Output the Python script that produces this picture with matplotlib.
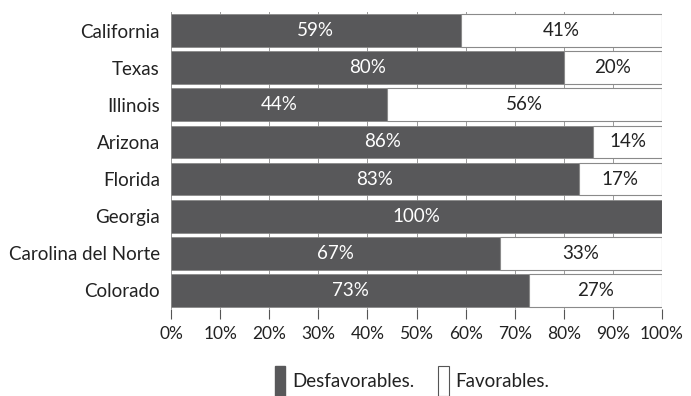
import numpy as np
import matplotlib.pyplot as plt
from matplotlib.patches import Patch

plt.rcParams['font.family'] = ['Lato', 'DejaVu Sans']

# states, top to bottom
estados = ["California", "Texas", "Illinois", "Arizona", "Florida",
           "Georgia", "Carolina del Norte", "Colorado"]
desfavorables = [59, 80, 44, 86, 83, 100, 67, 73]
favorables = [41, 20, 56, 14, 17, 0, 33, 27]

oscuro = "#58585a"

fig = plt.figure(figsize=(6.91, 3.96), dpi=100)
ax = fig.add_axes([171 / 691, 1 - 309 / 396, (662 - 171) / 691, (309 - 12) / 396])

y = np.arange(len(estados))
alto = 0.88

ax.barh(y, desfavorables, height=alto, color=oscuro, edgecolor="#8a8a8a",
        linewidth=0.6, zorder=2)
ax.barh(y, favorables, left=desfavorables, height=alto, color="white",
        edgecolor="#8a8a8a", linewidth=0.8, zorder=2)

for i in range(len(estados)):
    d, f = desfavorables[i], favorables[i]
    if d > 0:
        ax.text(d / 2, y[i], f"{d}%", ha="center", va="center",
                color="white", fontsize=13.5, zorder=3)
    if f > 0:
        ax.text(d + f / 2, y[i], f"{f}%", ha="center", va="center",
                color="#222222", fontsize=13.5, zorder=3)

ax.set_xlim(0, 100)
ax.set_ylim(len(estados) - 0.5, -0.5)
ax.set_yticks(y)
ax.set_yticklabels(estados, fontsize=13.5, color="#222222")
ax.set_xticks(np.arange(0, 101, 10))
ax.set_xticklabels([f"{v}%" for v in range(0, 101, 10)], fontsize=12.5,
                   color="#222222")
ax.tick_params(axis="y", length=0, pad=8)
ax.tick_params(axis="x", length=7, width=0.8, color="#555555", pad=5)
ax.xaxis.grid(True, color="#999999", linewidth=0.7, zorder=0)
ax.set_axisbelow(True)
for s in ax.spines.values():
    s.set_visible(False)

# legend below the axes
handles = [Patch(facecolor=oscuro, edgecolor=oscuro),
           Patch(facecolor="white", edgecolor="#555555", linewidth=0.8)]
fig.legend(handles, ["Desfavorables.", "Favorables."], loc="center",
           bbox_to_anchor=(412 / 691, 1 - 381 / 396), ncol=2, frameon=False,
           fontsize=13.5, handlelength=0.55, handleheight=2.1, handletextpad=0.35,
           columnspacing=1.3, labelcolor="#222222")

fig.savefig("out.png", dpi=100)
